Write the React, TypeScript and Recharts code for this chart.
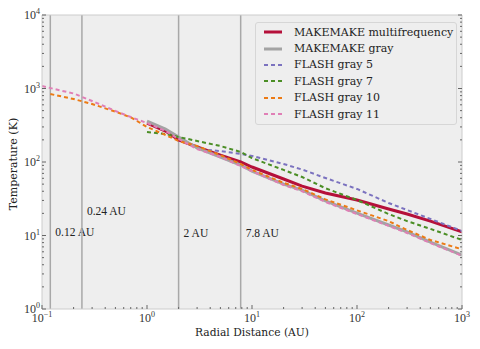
import { CartesianGrid, Legend, Line, LineChart, ReferenceArea, ReferenceLine, XAxis, YAxis } from 'recharts';

// radial distance (AU) / temperature (K)
const mmMultiR = [1, 1.5, 2, 3, 5, 7.8, 10, 20, 30, 50, 100, 200, 300, 500, 1000];
const mmMultiT = [339, 264, 199, 160, 124, 100, 85.5, 58.7, 47, 37.9, 30.4, 22.9, 19.6, 15.7, 11.2];

const mmGrayR = [1, 1.5, 2, 3, 5, 7.8, 10, 20, 30, 50, 100, 200, 300, 500, 1000];
const mmGrayT = [361, 281, 219, 155, 117, 91, 75, 50, 41.5, 29.5, 20.2, 13.9, 11.2, 8.1, 5.4];

const flash5R = [3.8, 5, 7.8, 10, 20, 30, 50, 100, 200, 300, 500, 1000];
const flash5T = [146, 141, 129, 121, 94, 79, 60.6, 43, 27.7, 22.2, 16.8, 11.5];

const flash7R = [1, 1.5, 2, 3, 5, 7.8, 10, 20, 30, 50, 100, 200, 300, 500, 1000];
const flash7T = [256, 240, 219, 193, 165, 137, 113, 78, 62.5, 44, 30.4, 19.6, 15.7, 12.3, 8.7];

const flash10R = [0.12, 0.2, 0.3, 0.5, 0.7, 1, 1.5, 2, 3, 5, 7.8, 10, 20, 30, 50, 100, 200, 300, 500, 1000];
const flash10T = [841, 719, 615, 484, 405, 300, 233, 193, 165, 124, 94, 78, 52, 43, 31, 22, 15.7, 11.9, 8.7, 6.5];

const flash11R = [0.1, 0.15, 0.2, 0.3, 0.5, 0.7, 1, 1.5, 2, 3, 5, 7.8, 10, 20, 30, 50, 100, 200, 300, 500, 1000];
const flash11T = [1082, 939, 855, 676, 494, 409, 339, 264, 206, 150, 117, 88, 75, 48.7, 40, 28.6, 19.6, 13.5, 10.8, 7.9, 5.3];

const boundaryR = [0.12, 0.24, 2, 7.8];
const boundaryLabels = ['0.12 AU', '0.24 AU', '2 AU', '7.8 AU'];
const boundaryLift = [73, 94, 72, 72];

const xMajor = [0.1, 1, 10, 100, 1000];
const xExp = ['−1', '0', '1', '2', '3'];
const yMajor = [1, 10, 100, 1000, 10000];
const yExp = ['0', '1', '2', '3', '4'];
const minorSteps = [2, 3, 4, 5, 6, 7, 8, 9];

const withMinor = (major: number[]) => [
  ...major,
  ...major.slice(0, -1).flatMap((d) => minorSteps.map((k) => +(d * k).toPrecision(3))),
];
const xTicks = withMinor(xMajor);
const yTicks = withMinor(yMajor);

const zip = (r: number[], t: number[]) => r.map((v, i) => ({ r: v, t: t[i] }));

const series = [
  { name: 'MAKEMAKE multifrequency', data: zip(mmMultiR, mmMultiT), color: '#b5103a', width: 3, dash: undefined },
  { name: 'MAKEMAKE gray', data: zip(mmGrayR, mmGrayT), color: '#a3a3a3', width: 3, dash: undefined },
  { name: 'FLASH gray 5', data: zip(flash5R, flash5T), color: '#7b72bf', width: 2, dash: '4 3' },
  { name: 'FLASH gray 7', data: zip(flash7R, flash7T), color: '#4b8e25', width: 2, dash: '4 3' },
  { name: 'FLASH gray 10', data: zip(flash10R, flash10T), color: '#ec7a14', width: 2, dash: '4 3' },
  { name: 'FLASH gray 11', data: zip(flash11R, flash11T), color: '#e07fb6', width: 2, dash: '4 3' },
];

const NUM_FONT = "'Liberation Serif', serif";
const TXT_FONT = "'DejaVu Serif', serif";
const TICK = '#666';
const FRAME = '#cccccc';

const BottomTick = ({ x, y, payload }: any) => {
  const i = xMajor.indexOf(payload.value);
  return (
    <g>
      <line x1={x} x2={x} y1={y} y2={y - (i >= 0 ? 4 : 2)} stroke={TICK} />
      {i >= 0 && (
        <text x={x} y={y + 13} textAnchor="middle" fontSize={12} fontFamily={NUM_FONT} fill="#333">
          10<tspan dy={-5} fontSize={8}>{xExp[i]}</tspan>
        </text>
      )}
    </g>
  );
};

const TopTick = ({ x, y, payload }: any) => (
  <line x1={x} x2={x} y1={y} y2={y + (xMajor.includes(payload.value) ? 4 : 2)} stroke={TICK} />
);

const LeftTick = ({ x, y, payload }: any) => {
  const i = yMajor.indexOf(payload.value);
  return (
    <g>
      <line x1={x} x2={x + (i >= 0 ? 4 : 2)} y1={y} y2={y} stroke={TICK} />
      {i >= 0 && (
        <text x={x - 2} y={y + 4} textAnchor="end" fontSize={12} fontFamily={NUM_FONT} fill="#333">
          10<tspan dy={-5} fontSize={8}>{yExp[i]}</tspan>
        </text>
      )}
    </g>
  );
};

const RightTick = ({ x, y, payload }: any) => (
  <line x1={x} x2={x - (yMajor.includes(payload.value) ? 4 : 2)} y1={y} y2={y} stroke={TICK} />
);

const renderLegend = () => (
  <div
    style={{
      width: 202,
      height: 103,
      boxSizing: 'border-box',
      border: '1px solid #d6d6d6',
      borderRadius: 3,
      background: '#eeeeee',
      paddingTop: 1,
    }}
  >
    {series.map((s) => (
      <div key={s.name} style={{ display: 'flex', alignItems: 'center', height: 16.4 }}>
        <svg width={38} height={10}>
          <line x1={8} x2={26} y1={5} y2={5} stroke={s.color} strokeWidth={s.width} strokeDasharray={s.dash} />
        </svg>
        <span style={{ fontFamily: TXT_FONT, fontSize: 11, color: '#222', whiteSpace: 'nowrap' }}>{s.name}</span>
      </div>
    ))}
  </div>
);

const axisCommon = {
  type: 'number' as const,
  scale: 'log' as const,
  allowDataOverflow: true,
  interval: 0 as const,
  tickLine: false,
  tickSize: 0,
  tickMargin: 0,
  axisLine: { stroke: FRAME },
};

export default function App() {
  return (
    <div style={{ position: 'absolute', left: 0, top: 0 }}>
      <LineChart width={480} height={349} margin={{ top: 14, right: 17, bottom: 39, left: 41 }}>
        <CartesianGrid fill="#eeeeee" horizontal={false} vertical={false} />
        <ReferenceArea x1={0.1} x2={1000} y1={1} y2={10000} fill="#eeeeee" fillOpacity={1} stroke="none" />
        <XAxis
          {...axisCommon}
          dataKey="r"
          domain={[0.1, 1000]}
          ticks={xTicks}
          tick={BottomTick}
          height={1}
          label={() => (
            <text x={252} y={336} textAnchor="middle" fontSize={10.7} fontFamily={TXT_FONT} fill="#222">
              Radial Distance (AU)
            </text>
          )}
        />
        <XAxis {...axisCommon} xAxisId="top" orientation="top" domain={[0.1, 1000]} ticks={xTicks} tick={TopTick} height={1} />
        <YAxis
          {...axisCommon}
          domain={[1, 10000]}
          ticks={yTicks}
          tick={LeftTick}
          width={1}
          label={() => (
            <text x={13} y={164} transform="rotate(-90 13 164)" textAnchor="middle" dominantBaseline="central" fontSize={11} fontFamily={TXT_FONT} fill="#222">
              Temperature (K)
            </text>
          )}
        />
        <YAxis {...axisCommon} yAxisId="right" orientation="right" domain={[1, 10000]} ticks={yTicks} tick={RightTick} width={1} />
        {boundaryR.map((r, i) => (
          <ReferenceLine
            key={r}
            x={r}
            stroke="#a8a8a8"
            strokeWidth={1.5}
            label={(p: any) => {
              const vb = p.viewBox || { x: 0, y: 15, height: 294 };
              return (
                <text x={vb.x + 5} y={vb.y + vb.height - boundaryLift[i]} fontSize={11.5} fontFamily={NUM_FONT} fill="#222">
                  {boundaryLabels[i]}
                </text>
              );
            }}
          />
        ))}
        {series.map((s) => (
          <Line
            key={s.name}
            data={s.data}
            dataKey="t"
            name={s.name}
            type="linear"
            stroke={s.color}
            strokeWidth={s.width}
            strokeDasharray={s.dash}
            dot={false}
            activeDot={false}
            isAnimationActive={false}
          />
        ))}
        <Legend
          layout="horizontal"
          verticalAlign="middle"
          align="center"
          content={renderLegend}
          wrapperStyle={{ position: 'absolute', left: 255, top: 22, width: 202, height: 103 }}
        />
      </LineChart>
    </div>
  );
}
